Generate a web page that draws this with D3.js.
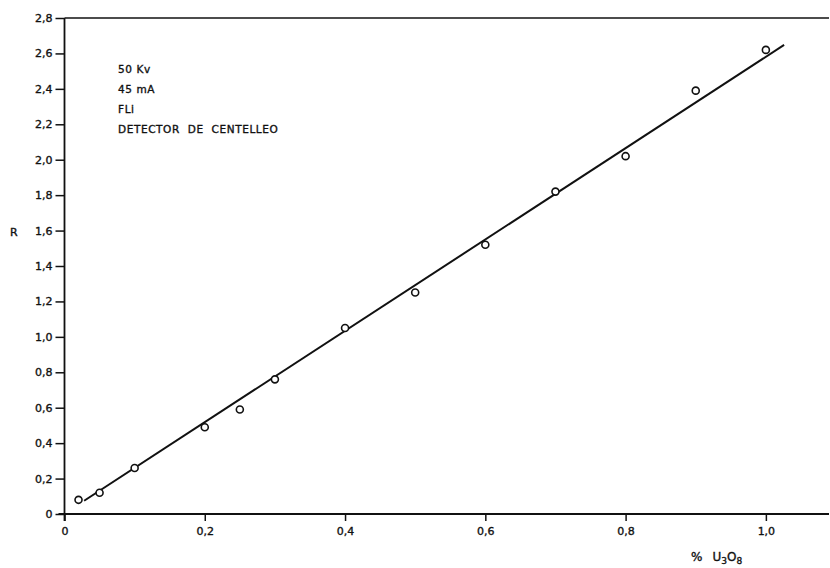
<!DOCTYPE html>
<html>
<head>
<meta charset="utf-8">
<script src="https://cdn.jsdelivr.net/npm/d3@7"></script>
<style>
  html, body { margin: 0; padding: 0; background: #fff; }
  svg { display: block; }
  text { font-family: "DejaVu Sans", sans-serif; fill: #111; stroke: #111; stroke-width: 0.35px; }
</style>
</head>
<body>
<svg id="chart" width="830" height="568"></svg>
<script>
// Measured samples: % U3O8 against ratio R
const uraniumPct = [0.02, 0.05, 0.10, 0.20, 0.25, 0.30, 0.40, 0.50, 0.60, 0.70, 0.80, 0.90, 1.00];
const ratioR     = [0.08, 0.12, 0.26, 0.49, 0.59, 0.76, 1.05, 1.25, 1.52, 1.82, 2.02, 2.39, 2.62];

// Calibration line end points
const fitX = [0.028, 1.026];
const fitY = [0.075, 2.648];

// Axis ticks and labels
const xTicks = [0, 0.2, 0.4, 0.6, 0.8, 1.0];
const xTickLabels = ["0", "0,2", "0,4", "0,6", "0,8", "1,0"];
const yTicks = [0, 0.2, 0.4, 0.6, 0.8, 1.0, 1.2, 1.4, 1.6, 1.8, 2.0, 2.2, 2.4, 2.6, 2.8];
const yTickLabels = ["0", "0,2", "0,4", "0,6", "0,8", "1,0", "1,2", "1,4", "1,6", "1,8", "2,0", "2,2", "2,4", "2,6", "2,8"];

const notes = ["50 Kv", "45 mA", "FLi", "DETECTOR  DE  CENTELLEO"];

const svg = d3.select("#chart");

const x = d3.scaleLinear().domain([0, 1.09]).range([64.5, 829]);
const y = d3.scaleLinear().domain([0, 2.8]).range([514, 18]);

// Left axis
const yAxis = svg.append("g")
  .attr("transform", `translate(${x(0)},0)`)
  .call(d3.axisLeft(y).tickValues(yTicks).tickSize(9).tickPadding(3)
    .tickFormat((d, i) => yTickLabels[i]));
yAxis.select(".domain").attr("stroke", "#111").attr("stroke-width", 1.8).attr("d", `M0,${y(2.8)}V${y(0) + 7}`);
yAxis.selectAll(".tick line").attr("stroke", "#111").attr("stroke-width", 1.5);
yAxis.selectAll(".tick text").attr("font-size", 11).attr("fill", "#111").style("font-family", "DejaVu Sans, sans-serif");

// Bottom axis
const xAxis = svg.append("g")
  .attr("transform", `translate(0,${y(0)})`)
  .call(d3.axisBottom(x).tickValues(xTicks).tickSize(7).tickPadding(6)
    .tickFormat((d, i) => xTickLabels[i]));
xAxis.select(".domain").attr("stroke", "#111").attr("stroke-width", 1.8).attr("d", `M${x(0) - 6},0H${x(1.09)}`);
xAxis.selectAll(".tick line").attr("stroke", "#111").attr("stroke-width", 1.5);
xAxis.selectAll(".tick text").attr("font-size", 11).attr("fill", "#111").style("font-family", "DejaVu Sans, sans-serif");

// Top frame edge
svg.append("line")
  .attr("x1", x(0)).attr("x2", x(1.09))
  .attr("y1", y(2.8)).attr("y2", y(2.8))
  .attr("stroke", "#111").attr("stroke-width", 1.6);

// Calibration line
svg.append("path")
  .datum(d3.zip(fitX, fitY))
  .attr("fill", "none")
  .attr("stroke", "#111")
  .attr("stroke-width", 2)
  .attr("d", d3.line().x(d => x(d[0])).y(d => y(d[1])));

// Sample points
svg.append("g").selectAll("circle")
  .data(d3.zip(uraniumPct, ratioR))
  .join("circle")
  .attr("cx", d => x(d[0]))
  .attr("cy", d => y(d[1]))
  .attr("r", 3.5)
  .attr("fill", "#fff")
  .attr("stroke", "#111")
  .attr("stroke-width", 1.6);

// Operating conditions
svg.append("g").selectAll("text")
  .data(notes)
  .join("text")
  .attr("x", 118)
  .attr("y", (d, i) => 73 + i * 20)
  .attr("font-size", 10.5)
  .attr("letter-spacing", 0.6)
  .style("white-space", "pre")
  .text(d => d);

// Axis titles
svg.append("text")
  .attr("x", 10).attr("y", 236)
  .attr("font-size", 11)
  .text("R");

const xt = svg.append("text")
  .attr("x", 691).attr("y", 561)
  .attr("font-size", 12);
xt.append("tspan").text("%");
xt.append("tspan").attr("dx", 10).text("U");
xt.append("tspan").attr("font-size", 9).attr("dy", 3).text("3");
xt.append("tspan").attr("font-size", 12).attr("dy", -3).text("O");
xt.append("tspan").attr("font-size", 9).attr("dy", 3).text("8");
</script>
</body>
</html>
